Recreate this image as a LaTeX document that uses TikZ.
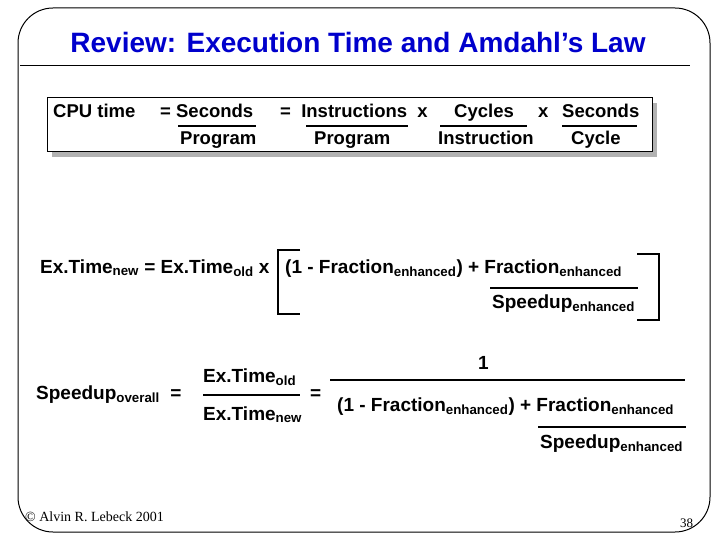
\documentclass[tikz,border=0pt]{standalone}
\usepackage{fontspec}
\setmainfont{Liberation Sans}
\newfontfamily\serifft{Liberation Serif}
\usetikzlibrary{positioning}
\definecolor{titleblue}{RGB}{0,0,204}
\begin{document}
\begin{tikzpicture}[x=1pt,y=-1pt,
    txt/.style={inner sep=0pt, anchor=base west, font=\bfseries\fontsize{18.5}{20}\selectfont},
    big/.style={txt, font=\bfseries\fontsize{19}{21}\selectfont},
    bar/.style={line width=2pt},
    brk/.style={line width=2.2pt}
]
    \useasboundingbox (0,0) rectangle (720,540);
    % frame and title
    \draw[line width=1pt, rounded corners=35] (18,8) rectangle (710,532);
    \node[inner sep=0pt, text=titleblue, font=\bfseries\fontsize{28}{30}\selectfont] (title) at (358,42) {Review: Execution Time and Amdahl’s Law};
    \draw[line width=1pt] (20,66) -- (690,66);
    % CPU time box
    \fill[gray!60] (52,103) rectangle (657,157);
    \draw[fill=white, line width=1pt] (47,98) rectangle (652,152);
    \node[txt] (cpu) at (53,118) {CPU time};
    \node[txt] (eq1) at (160,118) {= Seconds};
    \node[txt] (prog1) at (180,145) {Program};
    \draw[bar] (178,126) -- (256,126);
    \node[txt] (eq2) at (280,118) {=\ \ Instructions\ \ x};
    \node[txt] (prog2) at (314,145) {Program};
    \draw[bar] (306,126) -- (408,126);
    \node[txt] (cyc) at (454,118) {Cycles};
    \node[txt] (instr) at (438,145) {Instruction};
    \draw[bar] (440,126) -- (527,126);
    \node[txt] (x2) at (538,118) {x};
    \node[txt] (sec) at (562,118) {Seconds};
    \node[txt] (cycle) at (571,145) {Cycle};
    \draw[bar] (562,126) -- (637,126);
    % execution time
    \node[big] (exnew) at (40,273) {Ex.Time\textsubscript{new} = Ex.Time\textsubscript{old} x};
    \draw[brk] (300,250) -- (278,250) -- (278,314) -- (300,314);
    \node[big] (frac1) at (285,273) {(1 - Fraction\textsubscript{enhanced}) +\ Fraction\textsubscript{enhanced}};
    \draw[bar] (490,288) -- (638,288);
    \node[big] (spd1) at (492,308) {Speedup\textsubscript{enhanced}};
    \draw[brk] (637,254) -- (659,254) -- (659,320) -- (637,320);
    % speedup overall
    \node[big] (spdo) at (36,399) {Speedup\textsubscript{overall}\ \ =};
    \node[big] (exold) at (203,382) {Ex.Time\textsubscript{old}};
    \draw[bar] (203,395) -- (300,395);
    \node[big] (exnew2) at (203,420) {Ex.Time\textsubscript{new}};
    \node[big] (eq3) at (310,399) {=};
    \node[big] (one) at (478,369) {1};
    \draw[bar] (330,380) -- (685,380);
    \node[big] (frac2) at (337,411) {(1 - Fraction\textsubscript{enhanced}) +\ Fraction\textsubscript{enhanced}};
    \draw[bar] (538,427) -- (686,427);
    \node[big] (spd2) at (540,448) {Speedup\textsubscript{enhanced}};
    % footer
    \node[inner sep=0pt, anchor=base west, font=\serifft\fontsize{14}{16}\selectfont] (copy) at (25,521) {© Alvin R. Lebeck 2001};
    \node[inner sep=0pt, anchor=base west, font=\serifft\fontsize{13}{15}\selectfont] (page) at (680,527) {38};
\end{tikzpicture}
\end{document}
